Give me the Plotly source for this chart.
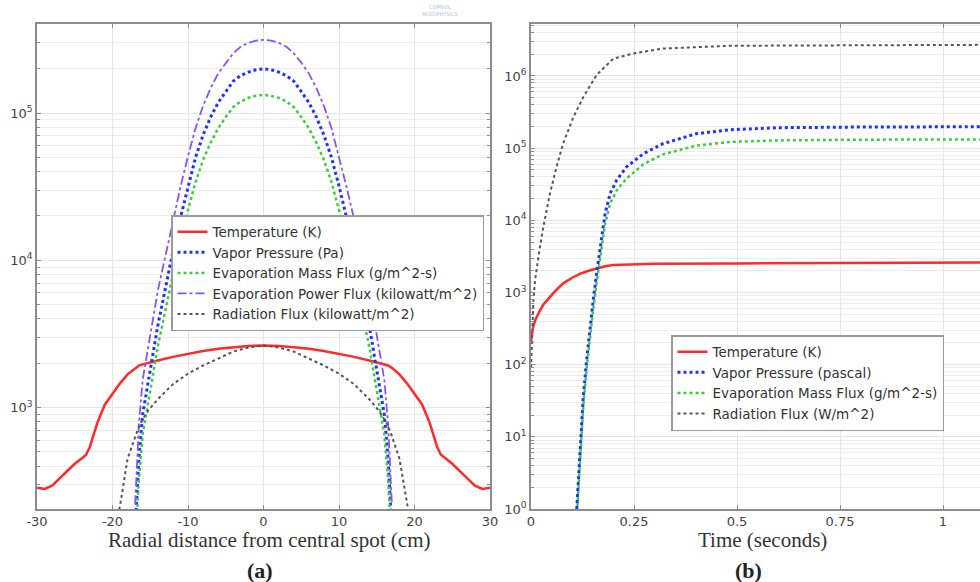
import plotly.graph_objects as go

# ---------------- Panel (a): radial profiles ----------------
a_temp_x = [-30, -29, -28, -27, -26, -25, -24, -23.5, -23, -22, -21, -20, -19, -18, -17, -16.5, -16, -15, -14, -12, -10, -8, -6, -4, -2, 0,
            2, 4, 6, 8, 10, 12, 14, 15, 16, 16.5, 17, 18, 19, 20, 21, 22, 23, 23.5, 24, 25, 26, 27, 28, 29, 30]
a_temp_y = [285, 280, 295, 330, 370, 415, 455, 478, 540, 790, 1050, 1250, 1460, 1680, 1860, 1930, 1965, 2030, 2090, 2210, 2320, 2420, 2510, 2570, 2620, 2640,
            2620, 2570, 2510, 2420, 2320, 2210, 2090, 2030, 1965, 1930, 1860, 1680, 1460, 1250, 1050, 790, 540, 478, 455, 415, 370, 330, 295, 280, 285]

a_evap_x = [-17, -16.5, -16, -15.5, -15, -14, -13, -12, -11, -10, -9, -8, -7, -6, -5, -4, -3, -2, -1, 0,
            1, 2, 3, 4, 5, 6, 7, 8, 9, 10, 11, 12, 13, 14, 15, 15.5, 16, 16.5, 17]
a_vapor_y = [1.5e2, 4.5e2, 9.0e2, 1.3e3, 1.8e3, 3.6e3, 6.5e3, 1.15e4, 1.95e4, 3.2e4, 5.0e4, 7.1e4, 9.4e4, 1.18e5, 1.4e5, 1.65e5, 1.8e5, 1.9e5, 1.97e5, 2.0e5,
             1.97e5, 1.9e5, 1.8e5, 1.65e5, 1.4e5, 1.18e5, 9.4e4, 7.1e4, 5.0e4, 3.2e4, 1.95e4, 1.15e4, 6.5e3, 3.6e3, 1.8e3, 1.3e3, 9.0e2, 4.5e2, 1.5e2]
a_mass_y = [1.1e2, 3.3e2, 6.6e2, 9.5e2, 1.3e3, 2.6e3, 4.6e3, 8.0e3, 1.33e4, 2.2e4, 3.4e4, 4.8e4, 6.3e4, 7.9e4, 9.4e4, 1.1e5, 1.2e5, 1.27e5, 1.31e5, 1.33e5,
            1.31e5, 1.27e5, 1.2e5, 1.1e5, 9.4e4, 7.9e4, 6.3e4, 4.8e4, 3.4e4, 2.2e4, 1.33e4, 8.0e3, 4.6e3, 2.6e3, 1.3e3, 9.5e2, 6.6e2, 3.3e2, 1.1e2]
a_power_y = [2.2e2, 7.8e2, 1.55e3, 2.25e3, 3.1e3, 6.2e3, 1.08e4, 1.9e4, 3.15e4, 5.1e4, 7.9e4, 1.12e5, 1.48e5, 1.86e5, 2.2e5, 2.55e5, 2.83e5, 3.0e5, 3.11e5, 3.14e5,
             3.11e5, 3.0e5, 2.83e5, 2.55e5, 2.2e5, 1.86e5, 1.48e5, 1.12e5, 7.9e4, 5.1e4, 3.15e4, 1.9e4, 1.08e4, 6.2e3, 3.1e3, 2.25e3, 1.55e3, 7.8e2, 2.2e2]

a_rad_x = [-19.3, -19, -18, -17, -16.4, -15.3, -14, -12, -10, -8, -6, -4, -2, 0,
           2, 4, 6, 8, 10, 12, 14, 15.3, 16.4, 17, 18, 19, 19.3]
a_rad_y = [185, 215, 450, 640, 770, 950, 1140, 1440, 1700, 1930, 2150, 2400, 2560, 2640,
           2560, 2400, 2150, 1930, 1700, 1440, 1140, 950, 770, 640, 450, 215, 185]

# ---------------- Panel (b): time histories ----------------
b_temp_t = [0, 0.005, 0.01, 0.014, 0.02, 0.03, 0.04, 0.05, 0.06, 0.078, 0.1, 0.12, 0.14, 0.16, 0.18, 0.2, 0.25, 0.3, 0.5, 0.75, 1.0, 1.1]
b_temp_y = [210, 330, 410, 460, 540, 680, 800, 920, 1060, 1340, 1600, 1830, 2000, 2150, 2310, 2400, 2470, 2500, 2530, 2560, 2600, 2610]

b_evap_t = [0.111, 0.119, 0.127, 0.135, 0.143, 0.151, 0.159, 0.165, 0.172, 0.18, 0.192, 0.208, 0.232, 0.273, 0.32, 0.4, 0.483, 0.6, 0.8, 1.1]
b_vapor_y = [1.0, 6.6, 36, 115, 335, 780, 1800, 3000, 5900, 1.25e4, 2.35e4, 3.6e4, 5.5e4, 8.4e4, 1.15e5, 1.58e5, 1.8e5, 1.92e5, 1.96e5, 1.98e5]
b_mass_y = [0.75, 5.0, 27, 86, 250, 580, 1330, 2200, 4300, 9000, 1.7e4, 2.6e4, 3.8e4, 6.0e4, 8.2e4, 1.08e5, 1.22e5, 1.28e5, 1.31e5, 1.32e5]

b_rad_t = [0, 0.003, 0.006, 0.01, 0.014, 0.02, 0.03, 0.046, 0.062, 0.078, 0.103, 0.127, 0.159, 0.2, 0.248, 0.32, 0.48, 0.7, 1.0, 1.1]
b_rad_y = [90, 350, 800, 1500, 2270, 3700, 8100, 2.35e4, 5.5e4, 1.16e5, 2.7e5, 5.1e5, 1.03e6, 1.74e6, 2.04e6, 2.4e6, 2.62e6, 2.66e6, 2.69e6, 2.7e6]

# tick labels
a_xtick_vals = [-30, -20, -10, 0, 10, 20, 30]
a_xtick_text = ["-30", "-20", "-10", "0", "10", "20", "30"]
a_ytick_vals = [1e3, 1e4, 1e5]
a_ytick_text = ["10<sup>3</sup>", "10<sup>4</sup>", "10<sup>5</sup>"]
b_xtick_vals = [0, 0.25, 0.5, 0.75, 1]
b_xtick_text = ["0", "0.25", "0.5", "0.75", "1"]
b_ytick_vals = [1e0, 1e1, 1e2, 1e3, 1e4, 1e5, 1e6]
b_ytick_text = ["10<sup>0</sup>", "10<sup>1</sup>", "10<sup>2</sup>", "10<sup>3</sup>",
                "10<sup>4</sup>", "10<sup>5</sup>", "10<sup>6</sup>"]
minor_vals = [m * 10 ** e for e in range(0, 7) for m in range(2, 10)]

RED, BLUE, GREEN, PURPLE, GRAY = "#ff2a2a", "#1e32ff", "#3dcc3d", "#8855ee", "#555555"

fig = go.Figure()
# panel (a)
fig.add_trace(go.Scatter(x=a_temp_x, y=a_temp_y, name="Temperature (K)", mode="lines",
                         line=dict(color=RED, width=2.5), xaxis="x", yaxis="y", legend="legend"))
fig.add_trace(go.Scatter(x=a_evap_x, y=a_vapor_y, name="Vapor Pressure (Pa)", mode="lines",
                         line=dict(color=BLUE, width=3, dash="dot"), xaxis="x", yaxis="y", legend="legend"))
fig.add_trace(go.Scatter(x=a_evap_x, y=a_mass_y, name="Evaporation Mass Flux (g/m^2-s)", mode="lines",
                         line=dict(color=GREEN, width=2.5, dash="dot"), xaxis="x", yaxis="y", legend="legend"))
fig.add_trace(go.Scatter(x=a_evap_x, y=a_power_y, name="Evaporation Power Flux (kilowatt/m^2)", mode="lines",
                         line=dict(color=PURPLE, width=1.8, dash="dashdot"), xaxis="x", yaxis="y", legend="legend"))
fig.add_trace(go.Scatter(x=a_rad_x, y=a_rad_y, name="Radiation Flux (kilowatt/m^2)", mode="lines",
                         line=dict(color=GRAY, width=2, dash="dot"), xaxis="x", yaxis="y", legend="legend"))
# panel (b)
fig.add_trace(go.Scatter(x=b_temp_t, y=b_temp_y, name="Temperature (K)", mode="lines",
                         line=dict(color=RED, width=2.5), xaxis="x2", yaxis="y2", legend="legend2"))
fig.add_trace(go.Scatter(x=b_evap_t, y=b_vapor_y, name="Vapor Pressure (pascal)", mode="lines",
                         line=dict(color=BLUE, width=3, dash="dot"), xaxis="x2", yaxis="y2", legend="legend2"))
fig.add_trace(go.Scatter(x=b_evap_t, y=b_mass_y, name="Evaporation Mass Flux (g/m^2-s)", mode="lines",
                         line=dict(color=GREEN, width=2.5, dash="dot"), xaxis="x2", yaxis="y2", legend="legend2"))
fig.add_trace(go.Scatter(x=b_rad_t, y=b_rad_y, name="Radiation Flux (W/m^2)", mode="lines",
                         line=dict(color=GRAY, width=2, dash="dot"), xaxis="x2", yaxis="y2", legend="legend2"))

W, H = 980, 582
tickfont = dict(family="DejaVu Sans", size=13, color="#444")
gridc = "#e4e4e4"
linec = "#8c8c8c"

def xax(domain, rng, vals, text, mirror, anchor):
    return dict(domain=domain, range=rng, tickmode="array", tickvals=vals, ticktext=text,
                showgrid=True, gridcolor=gridc, gridwidth=1, zeroline=False, automargin=False,
                showline=True, linecolor=linec, linewidth=1.5, mirror=mirror,
                ticks="inside", ticklen=4, tickcolor=linec, tickfont=tickfont, anchor=anchor)

def yax(domain, rng, vals, text, mirror, anchor):
    return dict(domain=domain, type="log", range=rng, tickmode="array", tickvals=vals, ticktext=text,
                showgrid=True, gridcolor=gridc, gridwidth=1, zeroline=False, automargin=False,
                showline=True, linecolor=linec, linewidth=1.5, mirror=mirror, anchor=anchor,
                ticks="inside", ticklen=4, tickcolor=linec, tickfont=tickfont,
                minor=dict(tickmode="array", tickvals=minor_vals, showgrid=True, gridcolor="#ececec",
                           ticks="inside", ticklen=3, tickcolor=linec))

ydom = [1 - 509 / H, 1 - 24 / H]
xa = xax([37 / W, 490 / W], [-30, 30], a_xtick_vals, a_xtick_text, "ticks", "y")
ya = yax(ydom, [2.311, 5.605], a_ytick_vals, a_ytick_text, "ticks", "x")
xb = xax([531 / W, 1.0], [0, 1.0898], b_xtick_vals, b_xtick_text, "ticks", "y2")
yb = yax(ydom, [0, 6.72], b_ytick_vals, b_ytick_text, False, "x2")

legend_common = dict(xanchor="left", yanchor="top", bgcolor="white", bordercolor="#9a9a9a", borderwidth=1.5,
                     font=dict(family="DejaVu Sans", size=13.5, color="#333"), itemwidth=30, tracegroupgap=0)

def label(text, xpx, ypx, size, color="#333"):
    return dict(text=text, x=xpx / W, y=1 - ypx / H, xref="paper", yref="paper",
                xanchor="center", yanchor="middle", showarrow=False,
                font=dict(family="Liberation Serif", size=size, color=color))

fig.update_layout(
    width=W, height=H, margin=dict(l=0, r=0, t=0, b=0, pad=0, autoexpand=False),
    paper_bgcolor="white", plot_bgcolor="white", showlegend=True,
    xaxis=xa, yaxis=ya, xaxis2=xb, yaxis2=yb,
    legend=dict(x=171 / W, y=1 - 215 / H, **legend_common),
    legend2=dict(x=671 / W, y=1 - 335 / H, **legend_common),
    annotations=[
        label("Radial distance from central spot (cm)", 269, 540, 21),
        label("<b>(a)</b>", 260, 570, 22, "#222"),
        label("Time (seconds)", 762, 540, 21),
        label("<b>(b)</b>", 748, 570, 22, "#222"),
        dict(text="COMSOL<br>MULTIPHYSICS", x=440 / W, y=1 - 10 / H, xref="paper", yref="paper",
             xanchor="center", yanchor="middle", showarrow=False,
             font=dict(family="DejaVu Sans", size=5, color="#a9c3dd")),
    ],
)

fig.write_html("out.html", config={"displayModeBar": False},
               post_script="document.body.style.margin='0';document.body.style.overflow='hidden';")
